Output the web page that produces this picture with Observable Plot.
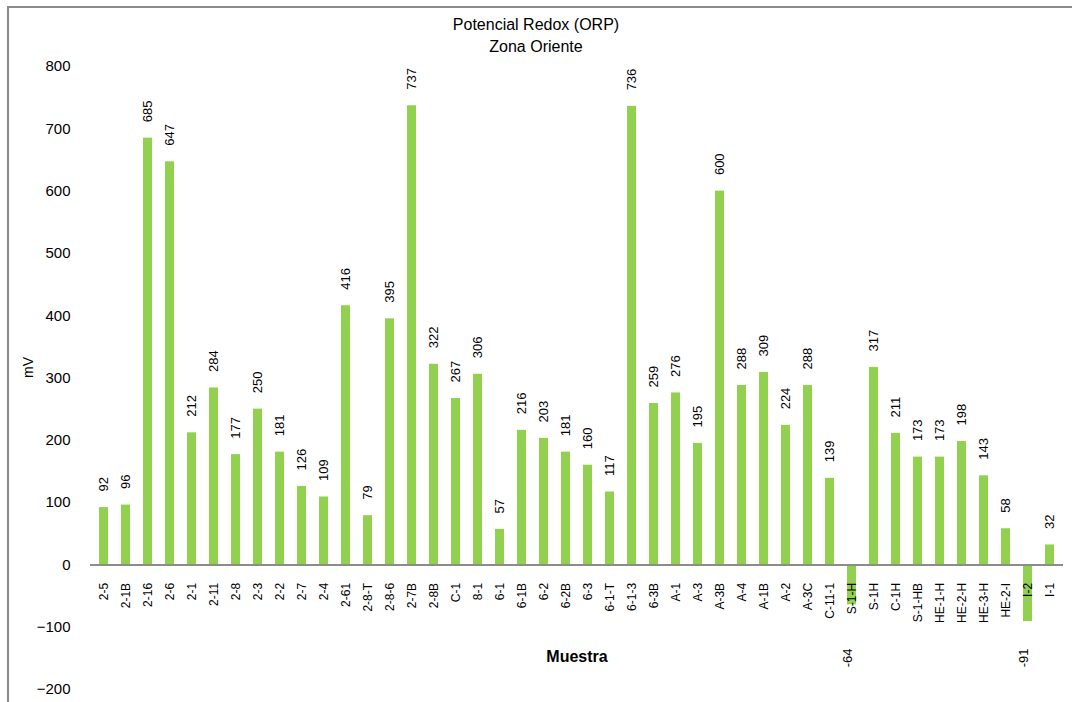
<!DOCTYPE html>
<html>
<head>
<meta charset="utf-8">
<script src="https://cdn.jsdelivr.net/npm/d3@7"></script>
<script src="https://cdn.jsdelivr.net/npm/@observablehq/plot@0.6"></script>
<style>
  html, body { margin: 0; padding: 0; background: #fff; }
  #wrap { position: relative; width: 1072px; height: 702px; overflow: hidden; font-family: "Liberation Sans", Arial, sans-serif; }
  #frame { position: absolute; left: 7px; top: 6px; width: 1080px; height: 720px; border: 2px solid #8c8c8c; box-sizing: border-box; pointer-events: none; }
  #title { position: absolute; left: 0; width: 1072px; top: 14px; text-align: center; font-size: 16px; line-height: 22px; color: #000; }
  #chart { position: absolute; left: 0; top: 0; }
</style>
</head>
<body>
<div id="wrap">
  <div id="frame"></div>
  <div id="title">Potencial Redox (ORP)<br>Zona Oriente</div>
  <div id="chart"></div>
</div>
<script>
// Sample codes along the x axis
const muestras = [
  "2-5", "2-1B", "2-16", "2-6", "2-1", "2-11", "2-8", "2-3", "2-2", "2-7", "2-4",
  "2-61", "2-8-T", "2-8-6", "2-7B", "2-8B", "C-1", "8-1", "6-1", "6-1B", "6-2", "6-2B",
  "6-3", "6-1-T", "6-1-3", "6-3B", "A-1", "A-3", "A-3B", "A-4", "A-1B", "A-2",
  "A-3C", "C-11-1", "S-1-H", "S-1H", "C-1H", "S-1-HB", "HE-1-H", "HE-2-H", "HE-3-H",
  "HE-2-I", "I-2", "I-1"
];

// ORP readings (mV) for each sample
const orp = [
  92, 96, 685, 647, 212, 284, 177, 250, 181, 126, 109,
  416, 79, 395, 737, 322, 267, 306, 57, 216, 203, 181,
  160, 117, 736, 259, 276, 195, 600, 288, 309, 224,
  288, 139, -64, 317, 211, 173, 173, 198, 143,
  58, -91, 32
];

// Y axis tick values
const yTicks = [-200, -100, 0, 100, 200, 300, 400, 500, 600, 700, 800];

const data = muestras.map((m, i) => ({i, muestra: m, orp: orp[i]}));
const positivos = data.filter(d => d.orp >= 0);
const negativos = data.filter(d => d.orp < 0);

const green = "#92d050";
const font = "Liberation Sans, Arial, sans-serif";

const chart = Plot.plot({
  width: 1072,
  height: 702,
  marginLeft: 90,
  marginRight: 9,
  marginTop: 66,
  marginBottom: 13,
  style: {fontFamily: font, fontSize: "15px", color: "#000", background: "transparent", overflow: "visible"},
  x: {type: "band", domain: d3.range(muestras.length), paddingInner: 0.57, paddingOuter: 0.285, axis: null},
  y: {domain: [-200, 800], ticks: yTicks, tickSize: 0, tickPadding: 20, label: null},
  marks: [
    Plot.barY(data, {x: "i", y: "orp", fill: green}),
    Plot.ruleY([0], {stroke: "#8c8c8c", strokeWidth: 2}),
    // category labels hanging below the zero line
    Plot.text(data, {
      x: "i", y: () => 0, text: "muestra", rotate: -90, textAnchor: "end",
      dy: 18, fontSize: 12, fill: "#000"
    }),
    // value labels above positive bars
    Plot.text(positivos, {
      x: "i", y: "orp", text: d => String(d.orp), rotate: -90, textAnchor: "start",
      dy: -16, fontSize: 13, fill: "#000"
    }),
    // value labels for negative bars, below the category labels
    Plot.text(negativos, {
      x: "i", text: d => String(d.orp), rotate: -90, textAnchor: "end",
      frameAnchor: "bottom", dy: -41, fontSize: 13, fill: "#000"
    }),
    // axis titles
    Plot.text(["Muestra"], {
      frameAnchor: "bottom", dy: -28, fontWeight: "bold", fontSize: 16, fill: "#000"
    }),
    Plot.text(["mV"], {
      frameAnchor: "left", dx: -62, rotate: -90, fontSize: 14, fill: "#000"
    })
  ]
});

document.getElementById("chart").appendChild(chart);
</script>
</body>
</html>
